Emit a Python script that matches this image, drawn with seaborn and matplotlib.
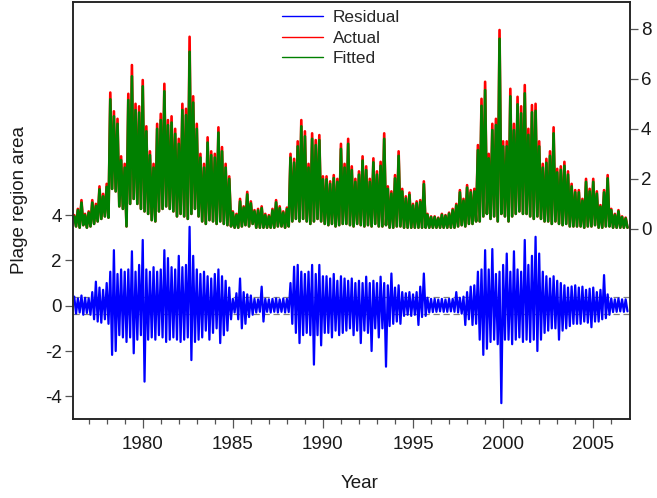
import numpy as np
import pandas as pd
import matplotlib
matplotlib.use("Agg")
import matplotlib.pyplot as plt
from matplotlib.lines import Line2D
import seaborn as sns

# ---- data (5 samples per year, 1976.2 .. 2006.8) ----
actual_hi = [
    0.55, 0.8, 1.15, 0.6, 0.7,
    1.15, 1.0, 1.7, 1.4, 1.8,
    5.45, 4.7, 4.4, 2.9, 2.6,
    5.4, 6.55, 5.0, 4.9, 5.95,
    4.1, 3.1, 2.6, 4.2, 4.6,
    5.8, 4.35, 4.5, 4.0, 3.6,
    5.0, 4.8, 7.68, 5.3, 4.2,
    3.0, 2.6, 3.66, 3.1, 3.0,
    4.06, 3.27, 2.6, 2.1, 0.7,
    0.6, 1.2, 0.9, 1.48, 1.1,
    0.75, 0.8, 0.9, 0.6, 0.55,
    0.8, 1.15, 0.9, 0.7, 0.85,
    3.0, 2.8, 3.5, 4.35, 3.9,
    2.6, 3.82, 3.55, 3.75, 2.1,
    2.1, 1.9, 2.15, 2.0, 3.4,
    2.6, 3.6, 2.5, 2.0, 2.3,
    2.9, 2.5, 2.0, 2.82, 2.3,
    2.68, 3.82, 1.7, 1.5, 2.15,
    3.1, 1.6, 1.3, 1.45, 1.0,
    1.1, 1.15, 1.9, 0.6, 0.5,
    0.5, 0.45, 0.6, 0.55, 0.65,
    0.8, 1.0, 1.55, 1.2, 1.75,
    1.55, 1.6, 3.35, 5.2, 5.88,
    3.0, 4.2, 4.4, 7.95, 3.5,
    3.5, 5.6, 4.2, 5.28, 4.9,
    5.75, 4.0, 4.95, 5.0, 3.5,
    2.6, 2.8, 3.1, 4.06, 2.4,
    2.5, 2.68, 2.3, 1.8, 1.55,
    1.55, 1.2, 2.0, 1.6, 2.0,
    1.5, 0.95, 1.55, 2.15, 0.8,
    0.6, 0.75, 0.5, 0.45,
]
actual_lo = [
    0.1, 0.05, 0.15, 0.05, 0.1,
    0.2, 0.3, 0.4, 0.5, 0.45,
    1.6, 1.5, 0.9, 0.8, 0.1,
    1.0, 1.2, 1.0, 0.8, 0.7,
    0.6, 0.35, 0.3, 0.7, 0.8,
    0.9, 0.8, 0.7, 0.5, 0.6,
    0.5, 0.4, 0.6, 0.8, 0.5,
    0.3, 0.2, 0.35, 0.3, 0.2,
    0.3, 0.2, 0.15, 0.1, 0.05,
    0.05, 0.1, 0.15, 0.1, 0.2,
    0.05, 0.05, 0.05, 0.05, 0.05,
    0.05, 0.1, 0.1, 0.05, 0.1,
    0.3, 0.4, 0.3, 0.4, 0.3,
    0.2, 0.3, 0.4, 0.3, 0.2,
    0.15, 0.2, 0.1, 0.15, 0.2,
    0.2, 0.15, 0.1, 0.2, 0.15,
    0.1, 0.15, 0.1, 0.2, 0.1,
    0.1, 0.15, 0.05, 0.05, 0.1,
    0.1, 0.05, 0.05, 0.05, 0.05,
    0.05, 0.05, 0.05, 0.05, 0.05,
    0.05, 0.05, 0.05, 0.05, 0.05,
    0.05, 0.1, 0.15, 0.1, 0.2,
    0.2, 0.3, 0.3, 0.5, 0.6,
    0.4, 0.5, 0.3, 0.6, 0.5,
    0.3, 0.5, 0.6, 0.7, 0.6,
    0.6, 0.5, 0.4, 0.5, 0.4,
    0.3, 0.3, 0.2, 0.3, 0.2,
    0.15, 0.2, 0.1, 0.1, 0.1,
    0.1, 0.05, 0.1, 0.1, 0.15,
    0.05, 0.05, 0.1, 0.1, 0.05,
    0.05, 0.05, 0.05, 0.05,
]
fitted_hi = [
    0.5, 0.75, 1.05, 0.55, 0.65,
    1.05, 0.92, 1.58, 1.3, 1.68,
    5.18, 4.5, 4.2, 2.75, 2.45,
    5.15, 6.1, 4.75, 4.65, 5.7,
    3.9, 2.95, 2.45, 4.0, 4.35,
    5.5, 4.15, 4.25, 3.8, 3.4,
    4.75, 4.55, 7.08, 5.05, 4.0,
    2.85, 2.45, 3.45, 2.95, 2.85,
    3.85, 3.1, 2.45, 2.0, 0.65,
    0.55, 1.1, 0.85, 1.38, 1.02,
    0.7, 0.74, 0.83, 0.55, 0.5,
    0.74, 1.06, 0.83, 0.65, 0.79,
    2.85, 2.65, 3.3, 4.1, 3.7,
    2.45, 3.6, 3.35, 3.55, 1.98,
    1.98, 1.8, 2.03, 1.88, 3.2,
    2.45, 3.4, 2.35, 1.88, 2.17,
    2.73, 2.35, 1.88, 2.66, 2.17,
    2.52, 3.6, 1.6, 1.41, 2.02,
    2.92, 1.5, 1.22, 1.36, 0.94,
    1.03, 1.08, 1.79, 0.56, 0.47,
    0.47, 0.42, 0.56, 0.52, 0.61,
    0.75, 0.94, 1.46, 1.13, 1.65,
    1.46, 1.5, 3.15, 4.92, 5.55,
    2.82, 3.95, 4.15, 7.6, 3.3,
    3.3, 5.3, 3.95, 4.98, 4.62,
    5.42, 3.76, 4.66, 4.72, 3.3,
    2.45, 2.64, 2.92, 3.82, 2.26,
    2.36, 2.52, 2.17, 1.7, 1.46,
    1.46, 1.13, 1.88, 1.5, 1.88,
    1.41, 0.89, 1.46, 2.02, 0.75,
    0.56, 0.7, 0.47, 0.42,
]
fitted_lo = actual_lo
resid_hi = [
    0.4, 0.32, 0.45, 0.35, 0.32,
    0.6, 1.06, 0.8, 0.7, 1.0,
    1.5, 2.45, 1.4, 1.6, 1.5,
    1.6, 2.4, 1.5, 1.8, 2.9,
    1.6, 1.5, 1.7, 1.5, 1.6,
    2.45, 2.1, 1.7, 1.6, 2.2,
    1.7, 1.8, 3.48, 2.2, 1.6,
    1.4, 1.5, 1.3, 1.2, 1.4,
    1.6, 1.3, 1.1, 0.8, 0.3,
    0.55, 1.2, 0.6, 0.5, 0.45,
    0.3, 0.28, 0.84, 0.3, 0.28,
    0.3, 0.32, 0.28, 0.32, 0.3,
    1.0, 1.72, 1.8, 1.5, 1.4,
    1.5, 1.8, 1.4, 1.8, 1.3,
    1.3, 1.2, 1.4, 1.1, 1.3,
    1.2, 1.1, 1.2, 1.0, 1.1,
    1.0, 1.28, 1.0, 1.1, 1.0,
    1.28, 1.0, 0.9, 1.42, 0.8,
    0.9, 0.6, 0.55, 0.6, 0.5,
    0.6, 0.84, 1.42, 0.35, 0.3,
    0.3, 0.27, 0.3, 0.27, 0.3,
    0.3, 0.6, 0.35, 0.4, 0.6,
    0.84, 0.9, 1.5, 1.6, 2.45,
    1.6, 2.5, 1.4, 1.5, 1.8,
    2.3, 1.5, 2.4, 1.6, 1.5,
    2.9, 1.8, 2.2, 3.04, 2.3,
    1.5, 1.3, 1.2, 1.3, 1.1,
    1.0, 0.9, 0.8, 0.85, 0.9,
    0.8, 0.84, 0.7, 0.75, 0.8,
    0.6, 0.7, 1.35, 0.5, 0.32,
    0.28, 0.32, 0.28, 0.28,
]
resid_lo = [
    -0.35, -0.3, -0.4, -0.32, -0.4,
    -0.6, -0.7, -0.75, -0.6, -0.8,
    -2.17, -2.0, -1.3, -1.4, -1.6,
    -1.4, -2.1, -1.5, -1.3, -3.35,
    -1.5, -1.4, -1.5, -1.3, -1.4,
    -1.6, -1.5, -1.4, -1.5, -1.6,
    -1.5, -1.4, -2.4, -1.6, -1.5,
    -1.4, -1.1, -1.5, -1.2, -1.0,
    -1.65, -1.3, -1.1, -0.6, -0.3,
    -0.6, -1.0, -0.8, -0.5, -0.4,
    -0.3, -0.27, -0.7, -0.27, -0.3,
    -0.27, -0.3, -0.27, -0.3, -0.28,
    -0.8, -1.2, -1.65, -1.3, -1.2,
    -1.3, -2.6, -1.3, -1.75, -1.2,
    -1.2, -1.4, -1.1, -1.3, -1.2,
    -1.1, -1.0, -1.3, -1.1, -1.65,
    -1.1, -1.2, -2.0, -1.0, -1.4,
    -1.0, -2.69, -0.9, -0.8, -0.7,
    -0.8, -0.45, -0.4, -0.45, -0.4,
    -0.85, -0.5, -0.45, -0.3, -0.28,
    -0.27, -0.25, -0.27, -0.27, -0.25,
    -0.27, -0.3, -0.35, -0.85, -0.6,
    -0.85, -0.8, -1.5, -2.17, -1.9,
    -1.6, -1.5, -1.7, -4.3, -1.5,
    -1.5, -1.7, -1.5, -1.4, -1.6,
    -1.5, -1.6, -1.5, -2.0, -1.5,
    -1.2, -1.1, -1.0, -1.0, -1.5,
    -1.1, -1.0, -0.9, -0.8, -0.8,
    -0.8, -0.7, -0.75, -0.95, -0.7,
    -0.7, -0.6, -0.55, -0.4, -0.28,
    -0.27, -0.25, -0.27, -0.25,
]
resid_band = 0.385
series_labels = ["Residual", "Actual", "Fitted"]

years = np.round(1976.2 + 0.2 * np.arange(len(actual_hi)), 2)


def zigzag(hi, lo):
    x = np.empty(2 * len(hi))
    y = np.empty(2 * len(hi))
    x[0::2] = years
    x[1::2] = years + 0.1
    y[0::2] = hi
    y[1::2] = lo
    return pd.DataFrame({"year": x, "value": y})


df_res = zigzag(resid_hi, resid_lo)
df_act = zigzag(actual_hi, actual_lo)
df_fit = zigzag(fitted_hi, fitted_lo)

sns.set_theme(style="white")
plt.rcParams["font.family"] = ["Liberation Sans", "DejaVu Sans"]
plt.rcParams["axes.unicode_minus"] = False

fig = plt.figure(figsize=(6.57, 4.98), dpi=100)
ax = fig.add_axes([0.1111, 0.1586, 0.8478, 0.8374])
ax2 = ax.twinx()

LW = 1.9
ax.axhline(resid_band, color="#808080", lw=0.9, ls=(0, (5, 3)), zorder=1)
ax.axhline(-resid_band, color="#808080", lw=0.9, ls=(0, (5, 3)), zorder=1)
sns.lineplot(data=df_res, x="year", y="value", ax=ax, color="#0000ff",
             lw=1.6, estimator=None, sort=False, legend=False, zorder=2)

sns.lineplot(data=df_act, x="year", y="value", ax=ax2, color="#ff0000",
             lw=LW, estimator=None, sort=False, legend=False)
sns.lineplot(data=df_fit, x="year", y="value", ax=ax2, color="#008000",
             lw=LW, estimator=None, sort=False, legend=False)

ax.set_xlim(1976.13, 2007.04)
ax.set_ylim(-5.0, 13.4)
ax2.set_ylim(-7.6, 9.07)

ax.set_xticks(np.arange(1980, 2006, 5))
ax.set_xticks(np.arange(1977, 2007, 1), minor=True)
ax.set_yticks([-4, -2, 0, 2, 4])
ax2.set_yticks([0, 2, 4, 6, 8])

ax.tick_params(axis="x", which="major", bottom=True, direction="out",
               length=6.5, width=0.9, color="#555555", labelsize=13.5,
               labelcolor="#1a1a1a", pad=6)
ax.tick_params(axis="x", which="minor", bottom=True, direction="out",
               length=3.6, width=0.9, color="#555555")
ax.tick_params(axis="y", left=True, direction="out", length=6, width=0.9,
               color="#555555", labelsize=13.5, labelcolor="#1a1a1a", pad=2)
ax2.tick_params(axis="y", right=True, direction="out", length=6, width=0.9,
                color="#555555", labelsize=13.5, labelcolor="#1a1a1a", pad=2)

for a in (ax, ax2):
    for s in a.spines.values():
        s.set_color("#222222")
        s.set_linewidth(1.1)
        s.set_visible(True)

ax.set_xlabel("Year", fontsize=13.5, color="#1a1a1a")
ax.set_ylabel("Plage region area", fontsize=13.5, color="#1a1a1a")
ax2.set_ylabel("")
ax.xaxis.set_label_coords(0.515, -0.134)
ax.yaxis.set_label_coords(-0.081, 0.525)

handles = [Line2D([], [], color="#0000ff", lw=1.0),
           Line2D([], [], color="#ff0000", lw=1.0),
           Line2D([], [], color="#008000", lw=1.0)]
ax2.legend(handles, series_labels, loc="upper left",
           bbox_to_anchor=(0.375, 0.98), frameon=False, fontsize=12.4,
           handlelength=2.4, handletextpad=0.55, labelspacing=0.31,
           borderpad=0, borderaxespad=0)

fig.savefig("out.png", dpi=100)
